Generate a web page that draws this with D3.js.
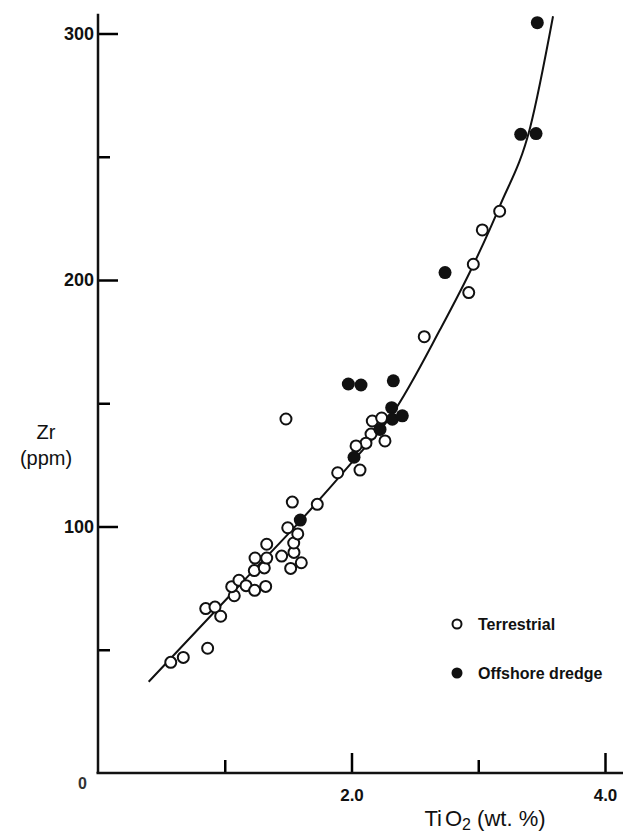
<!DOCTYPE html>
<html>
<head>
<meta charset="utf-8">
<script src="https://cdn.jsdelivr.net/npm/d3@7"></script>
<style>
  body { margin: 0; background: #fff; }
  svg { display: block; font-family: "Liberation Sans", Arial, sans-serif; }
</style>
</head>
<body>
<svg id="chart" width="623" height="832"></svg>
<script>
// Terrestrial samples (TiO2 wt.%, Zr ppm)
const terrTi = [0.574, 0.673, 0.865, 0.850, 0.923, 0.968, 1.075, 1.055, 1.112, 1.168,
  1.236, 1.323, 1.233, 1.312, 1.239, 1.331, 1.331, 1.449, 1.520, 1.604,
  1.546, 1.544, 1.576, 1.497, 1.533, 1.730, 1.483, 2.164, 2.238, 2.154,
  2.114, 2.036, 2.264, 2.067, 1.891, 2.574, 3.169, 3.032, 2.961, 2.925];
const terrZr = [44.9, 46.9, 50.6, 66.7, 67.3, 63.6, 71.9, 75.6, 78.2, 76.0,
  74.1, 75.7, 82.1, 83.2, 87.2, 87.2, 92.8, 88.0, 83.0, 85.3,
  89.5, 93.3, 97.0, 99.5, 109.9, 109.0, 143.6, 142.8, 144.0, 137.5,
  133.8, 132.7, 134.7, 122.9, 121.8, 177.0, 227.9, 220.3, 206.4, 194.9];

// Offshore dredge samples
const offTi = [1.596, 1.975, 2.075, 2.330, 2.317, 2.322, 2.401, 2.225, 2.020, 2.738, 3.335, 3.456, 3.466];
const offZr = [102.6, 157.8, 157.4, 159.1, 148.2, 143.5, 144.9, 139.4, 128.1, 203.0, 259.1, 259.4, 304.4];

// fitted trend curve
const fitTi = [0.40, 1.15, 1.60, 2.02, 2.32, 2.70, 2.96, 3.17, 3.41, 3.59];
const fitZr = [37, 78, 102.5, 127, 145.5, 180, 206, 230, 262, 307];

const yTicks = [50, 100, 150, 200, 250, 300];
const yLabelled = [100, 200, 300];
const xTicks = [1, 2, 3, 4];
const xLabelled = [2, 4];

const svg = d3.select("#chart");

const x = d3.scaleLinear().domain([0, 4]).range([98, 605]);
const y = d3.scaleLinear().domain([0, 300]).range([773, 33.5]);

// y axis
const yAxis = svg.append("g")
  .attr("transform", "translate(" + x(0) + ",0)")
  .call(d3.axisLeft(y)
    .tickValues(yTicks)
    .tickSize(-20)
    .tickPadding(6)
    .tickFormat(d => yLabelled.includes(d) ? d : ""));
yAxis.select(".domain").remove();
yAxis.selectAll(".tick line")
  .attr("x2", d => yLabelled.includes(d) ? 20 : 12)
  .attr("stroke-width", 2.5);
yAxis.selectAll(".tick text")
  .attr("x", -4)
  .style("font-size", "18px")
  .style("font-weight", "bold")
  .attr("fill", "#111");
svg.append("line")
  .attr("x1", x(0)).attr("x2", x(0))
  .attr("y1", y(0)).attr("y2", y(308))
  .attr("stroke", "#111").attr("stroke-width", 2.5);

// x axis
const xAxis = svg.append("g")
  .attr("transform", "translate(0," + y(0) + ")")
  .call(d3.axisBottom(x)
    .tickValues(xTicks)
    .tickSize(-20)
    .tickPadding(16)
    .tickFormat(d => xLabelled.includes(d) ? d3.format(".1f")(d) : ""));
xAxis.select(".domain").remove();
xAxis.selectAll(".tick line")
  .attr("y2", d => xLabelled.includes(d) ? -20 : -13)
  .attr("stroke-width", 2.5);
xAxis.selectAll(".tick text")
  .style("font-size", "17px")
  .style("font-weight", "bold")
  .attr("fill", "#111");
svg.append("line")
  .attr("x1", x(0) - 1.5).attr("x2", x(4.3))
  .attr("y1", y(0)).attr("y2", y(0))
  .attr("stroke", "#111").attr("stroke-width", 2.5);

// origin label
svg.append("text")
  .attr("x", x(0) - 11).attr("y", y(0) + 16)
  .attr("text-anchor", "end")
  .style("font-size", "16px").style("font-weight", "bold")
  .attr("fill", "#333")
  .text("0");

// axis titles
const yTitle = svg.append("text")
  .attr("text-anchor", "middle")
  .style("font-size", "20px")
  .attr("fill", "#111");
yTitle.append("tspan").attr("x", 46).attr("y", 439).text("Zr");
yTitle.append("tspan").attr("x", 46).attr("y", 465).text("(ppm)");

const xTitle = svg.append("text")
  .attr("x", 485).attr("y", 826)
  .attr("text-anchor", "middle")
  .style("font-size", "22px")
  .attr("fill", "#111");
xTitle.append("tspan").text("Ti");
xTitle.append("tspan").attr("dx", 3).text("O");
xTitle.append("tspan").attr("dy", 4).style("font-size", "16px").text("2");
xTitle.append("tspan").attr("dy", -4).text(" (wt. %)");

// trend curve
const fit = fitTi.map((d, i) => [d, fitZr[i]]);
svg.append("path")
  .datum(fit)
  .attr("fill", "none")
  .attr("stroke", "#111")
  .attr("stroke-width", 2)
  .attr("d", d3.line().x(d => x(d[0])).y(d => y(d[1])).curve(d3.curveMonotoneX));

// points
const terr = terrTi.map((d, i) => [d, terrZr[i]]);
const off = offTi.map((d, i) => [d, offZr[i]]);

svg.append("g").selectAll("circle")
  .data(terr)
  .join("circle")
  .attr("cx", d => x(d[0]))
  .attr("cy", d => y(d[1]))
  .attr("r", 5.5)
  .attr("fill", "#fff")
  .attr("stroke", "#111")
  .attr("stroke-width", 2);

svg.append("g").selectAll("circle")
  .data(off)
  .join("circle")
  .attr("cx", d => x(d[0]))
  .attr("cy", d => y(d[1]))
  .attr("r", 6.5)
  .attr("fill", "#111");

// legend
const legend = svg.append("g").attr("transform", "translate(457,624)");
legend.append("circle").attr("r", 4.5).attr("fill", "#fff").attr("stroke", "#111").attr("stroke-width", 2);
legend.append("text").attr("x", 21).attr("y", 6)
  .style("font-size", "16px").style("font-weight", "bold").attr("fill", "#111")
  .text("Terrestrial");
legend.append("circle").attr("cy", 49).attr("r", 5.5).attr("fill", "#111");
legend.append("text").attr("x", 21).attr("y", 55)
  .style("font-size", "16px").style("font-weight", "bold").attr("fill", "#111")
  .text("Offshore dredge");
</script>
</body>
</html>
